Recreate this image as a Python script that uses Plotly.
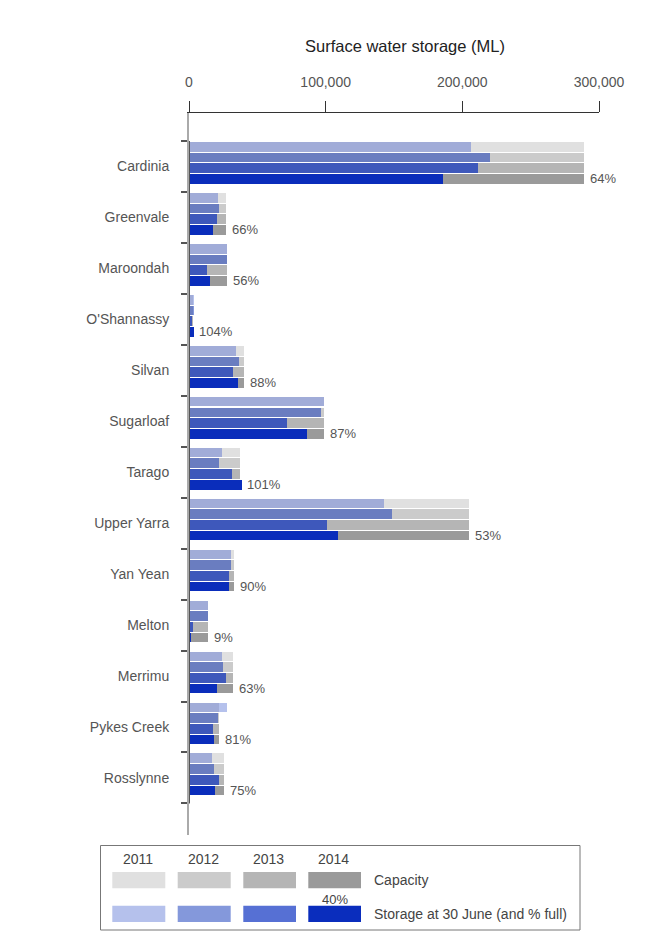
import plotly.graph_objects as go

# ---------------- data ----------------
reservoirs = ["Cardinia", "Greenvale", "Maroondah", "O'Shannassy", "Silvan", "Sugarloaf",
              "Tarago", "Upper Yarra", "Yan Yean", "Melton", "Merrimu", "Pykes Creek", "Rosslynne"]
years = ["2011", "2012", "2013", "2014"]
capacity_ML = [289200, 26800, 28000, 3100, 40400, 99100, 37600, 205000, 32900, 14100, 32200, 22200, 25400]
storage_2011 = [206500, 21500, 28000, 3200, 34600, 99100, 24200, 142800, 30500, 13700, 23900, 27800, 16800]
storage_2012 = [219900, 22000, 28000, 3200, 36400, 96900, 22200, 148400, 30700, 14100, 25100, 21500, 18300]
storage_2013 = [211300, 20700, 13400, 2400, 32500, 71700, 31500, 101000, 29300, 2900, 27100, 17300, 21700]
storage_2014 = [185500, 17700, 15700, 3200, 35600, 86400, 38100, 108700, 29600, 1300, 20300, 18000, 19000]
pct_full_2014 = ["64%", "66%", "56%", "104%", "88%", "87%", "101%", "53%", "90%", "9%", "63%", "81%", "75%"]
x_ticks = [0, 100000, 200000, 300000]

storage = [storage_2011, storage_2012, storage_2013, storage_2014]

# ---------------- styles ----------------
cap_colors = ["#e0e0e0", "#cbcbcb", "#b5b5b5", "#9a9a9a"]
stor_colors_on_cap = ["#a1acd8", "#6a7dc0", "#3e58bb", "#0a2dbb"]
stor_colors_pure = ["#b5c1ec", "#8498db", "#5670d4", "#0a2dbd"]
FONT = "Liberation Sans, Arial, sans-serif"
TXT = "#555555"

# page has an 8px body margin; figure is laid out in page pixel terms
OFF = 8
W, H = 642, 941
ML, MR, MT, MB = 181, 51, 105, 114
PW, PH = W - ML - MR, H - MT - MB


def px(x):
    return (x - OFF - ML) / PW


def py(y):
    return (H - MB - (y - OFF)) / PH


n = len(reservoirs)
pos = list(range(n))
PITCH, BW, START = 0.21, 0.19, -0.5 + 0.02

fig = go.Figure()
for k in range(4):
    off = START + k * PITCH
    fig.add_trace(go.Bar(y=pos, x=capacity_ML, orientation="h", offset=off, width=BW,
                         marker=dict(color=cap_colors[k], line=dict(width=0)),
                         hoverinfo="skip", showlegend=False))
    s = storage[k]
    fig.add_trace(go.Bar(y=pos, x=[min(a, c) for a, c in zip(s, capacity_ML)], orientation="h",
                         offset=off, width=BW,
                         marker=dict(color=stor_colors_on_cap[k], line=dict(width=0)),
                         hoverinfo="skip", showlegend=False))
    fig.add_trace(go.Bar(y=pos, x=[max(a - c, 0) for a, c in zip(s, capacity_ML)],
                         base=capacity_ML, orientation="h", offset=off, width=BW,
                         marker=dict(color=stor_colors_pure[k], line=dict(width=0)),
                         hoverinfo="skip", showlegend=False))

annotations = []
# percent-full labels next to the 2014 row
for p, a, c, t in zip(pos, storage_2014, capacity_ML, pct_full_2014):
    annotations.append(dict(text=t, xref="x", yref="y", x=max(a, c),
                            y=p + START + 3 * PITCH + BW / 2,
                            xanchor="left", yanchor="middle", xshift=4, showarrow=False,
                            font=dict(family=FONT, size=13, color=TXT)))

shapes = []
# darker axis segment across the categories
shapes.append(dict(type="line", xref="x", yref="y", x0=0, x1=0, y0=-0.5, y1=n - 0.5,
                   line=dict(color="#555555", width=2)))

annotations.append(dict(text="Surface water storage (ML)", xref="paper", yref="paper",
                        x=px(405), y=py(46), xanchor="center", yanchor="middle", showarrow=False,
                        font=dict(family=FONT, size=16.5, color="#222222")))

# ---------------- legend box ----------------
shapes.append(dict(type="rect", xref="paper", yref="paper", x0=px(100.5), x1=px(580),
                   y0=py(930), y1=py(845.5), line=dict(color="#777777", width=1),
                   fillcolor="rgba(0,0,0,0)"))
sw_x = [(112.3, 165.3), (177.7, 230.7), (243.3, 296.0), (308.3, 361.0)]
for k in range(4):
    x0, x1 = sw_x[k]
    shapes.append(dict(type="rect", xref="paper", yref="paper", x0=px(x0), x1=px(x1),
                       y0=py(888.3), y1=py(872), line=dict(width=0), fillcolor=cap_colors[k]))
    shapes.append(dict(type="rect", xref="paper", yref="paper", x0=px(x0), x1=px(x1),
                       y0=py(922), y1=py(905.7), line=dict(width=0), fillcolor=stor_colors_pure[k]))
    annotations.append(dict(text=years[k], xref="paper", yref="paper", x=px((x0 + x1) / 2 - 1),
                            y=py(859), xanchor="center", yanchor="middle", showarrow=False,
                            font=dict(family=FONT, size=14, color="#444444")))
annotations.append(dict(text="40%", xref="paper", yref="paper", x=px(334.5), y=py(899),
                        xanchor="center", yanchor="middle", showarrow=False,
                        font=dict(family=FONT, size=13, color="#444444")))
annotations.append(dict(text="Capacity", xref="paper", yref="paper", x=px(372), y=py(880),
                        xanchor="left", yanchor="middle", showarrow=False,
                        font=dict(family=FONT, size=14, color="#444444")))
annotations.append(dict(text="Storage at 30 June (and % full)", xref="paper", yref="paper",
                        x=px(372), y=py(914), xanchor="left", yanchor="middle", showarrow=False,
                        font=dict(family=FONT, size=14, color="#444444")))

fig.update_layout(
    width=W, height=H,
    margin=dict(l=ML, r=MR, t=MT, b=MB, pad=0),
    paper_bgcolor="white", plot_bgcolor="white",
    barmode="overlay", bargap=0,
    hovermode=False,
    font=dict(family=FONT, size=14, color=TXT),
    shapes=shapes, annotations=annotations,
    xaxis=dict(side="top", range=[0, 300000], tickmode="array", tickvals=x_ticks,
               tickformat=",", showgrid=False, zeroline=False,
               showline=True, linecolor="#333333", linewidth=1,
               ticks="outside", ticklen=11, tickcolor="#333333", tickwidth=1,
               ticklabelstandoff=8,
               tickfont=dict(family=FONT, size=14, color=TXT)),
    yaxis=dict(range=[n - 0.5 + 0.62, -1.05], tickmode="array", tickvals=pos,
               ticktext=reservoirs, ticks="", showgrid=False, zeroline=False,
               showline=True, linecolor="#aaaaaa", linewidth=2,
               ticklabelstandoff=15,
               minor=dict(tickmode="array", tickvals=[i - 0.5 for i in range(n + 1)],
                          ticks="outside", ticklen=6, tickcolor="#555555", tickwidth=1.5,
                          showgrid=False),
               tickfont=dict(family=FONT, size=14, color=TXT)),
)

fig.write_html("out.html")
